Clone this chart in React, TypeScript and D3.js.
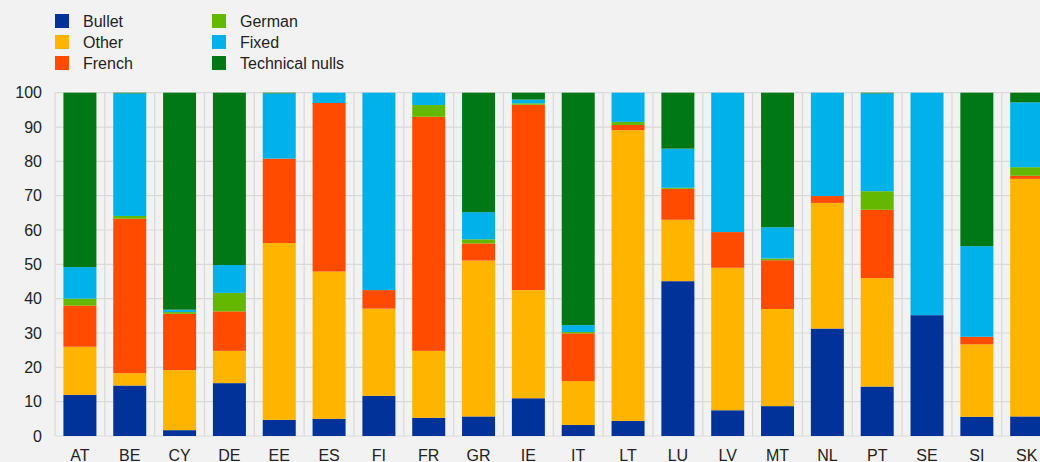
import React, { useEffect } from "react";
import * as d3 from "d3";

const countries = ["AT","BE","CY","DE","EE","ES","FI","FR","GR","IE","IT","LT","LU","LV","MT","NL","PT","SE","SI","SK"];
const seriesNames = ["Bullet","Other","French","German","Fixed","Technical nulls"];
const bullet = [12, 14.7, 1.7, 15.4, 4.7, 5.0, 11.7, 5.3, 5.7, 11.0, 3.2, 4.4, 45.1, 7.5, 8.7, 31.3, 14.4, 35.2, 5.6, 5.7];
const other = [14, 3.6, 17.5, 9.4, 51.5, 42.9, 25.4, 19.5, 45.4, 31.5, 12.8, 84.7, 17.9, 41.5, 28.3, 36.6, 31.6, 0, 21.1, 69.2];
const french = [12, 45.0, 16.4, 11.5, 24.6, 49.1, 5.4, 68.2, 5.0, 54.0, 13.9, 1.5, 9.0, 10.4, 14.2, 2.0, 19.9, 0, 2.2, 0.9];
const german = [2, 0.8, 0.5, 5.4, 0, 0, 0, 3.4, 1.2, 0.4, 0.4, 0.9, 0.3, 0, 0.5, 0, 5.4, 0, 0, 2.5];
const fixed = [9.2, 35.7, 0.7, 8.1, 19.0, 3.0, 57.5, 3.6, 7.9, 1.1, 2.0, 8.5, 11.4, 40.6, 9.1, 30.1, 28.5, 64.8, 26.4, 18.9];
const technicalNulls = [50.8, 0.2, 63.2, 50.2, 0.2, 0, 0, 0, 34.8, 2.0, 67.7, 0, 16.3, 0, 39.2, 0, 0.2, 0, 44.7, 2.8];
const yTicks = [0, 10, 20, 30, 40, 50, 60, 70, 80, 90, 100];

const colors = ["#003299", "#FFB400", "#FF4B00", "#65B800", "#00B1EA", "#007816"];
const seriesValues = [bullet, other, french, german, fixed, technicalNulls];

const W = 1040, H = 462;
const FONT = "Arial, 'Liberation Sans', sans-serif";

export default function App() {
  useEffect(() => {
    document.body.style.margin = "0";
  }, []);

  const rows = countries.map((c, i) => {
    const r: any = { country: c };
    seriesNames.forEach((s, j) => (r[s] = seriesValues[j][i]));
    return r;
  });
  const stacked = d3.stack().keys(seriesNames)(rows);

  const x = d3.scaleBand().domain(countries).range([55, 1051.6]).paddingInner(0.338).paddingOuter(0.169);
  const y = d3.scaleLinear().domain([0, 100]).range([436, 92.7]);
  const step = x.step();

  return (
    <svg width={W} height={H} style={{ display: "block", background: "#f2f2f2", fontFamily: FONT }}>
      <rect x={0} y={0} width={W} height={H} fill="#f2f2f2" />
      {/* grid */}
      {yTicks.map((t) => (
        <line key={"h" + t} x1={55} x2={W} y1={y(t)} y2={y(t)} stroke="#d9d9d9" strokeWidth={1.2} />
      ))}
      {d3.range(countries.length + 1).map((k) => (
        <line key={"v" + k} x1={55 + k * step} x2={55 + k * step} y1={y(100)} y2={y(0)} stroke="#d9d9d9" strokeWidth={1.2} />
      ))}
      {/* bars */}
      {stacked.map((layer, j) => (
        <g key={layer.key} fill={colors[j]}>
          {layer.map((d: any, i: number) => {
            const h = y(d[0]) - y(d[1]);
            if (h <= 0) return null;
            return (
              <rect key={i} x={x(countries[i])} width={x.bandwidth()} y={y(d[1])} height={h} />
            );
          })}
        </g>
      ))}
      {/* y axis labels */}
      {yTicks.map((t) => (
        <text key={"yt" + t} x={42} y={y(t)} dy="0.35em" textAnchor="end" fontSize={16} fill="#222">
          {t}
        </text>
      ))}
      {/* x axis labels */}
      {countries.map((c) => (
        <text key={"xt" + c} x={(x(c) as number) + x.bandwidth() / 2} y={461} textAnchor="middle" fontSize={16} fill="#222">
          {c}
        </text>
      ))}
      {/* legend */}
      {seriesNames.map((s, j) => {
        const col = Math.floor(j / 3);
        const row = j % 3;
        const lx = col === 0 ? 55 : 212;
        const ly = 14 + row * 21;
        return (
          <g key={"lg" + s}>
            <rect x={lx} y={ly} width={14} height={14} fill={colors[j]} />
            <text x={lx + 28} y={ly + 12.5} fontSize={16} fill="#222">
              {s}
            </text>
          </g>
        );
      })}
    </svg>
  );
}
